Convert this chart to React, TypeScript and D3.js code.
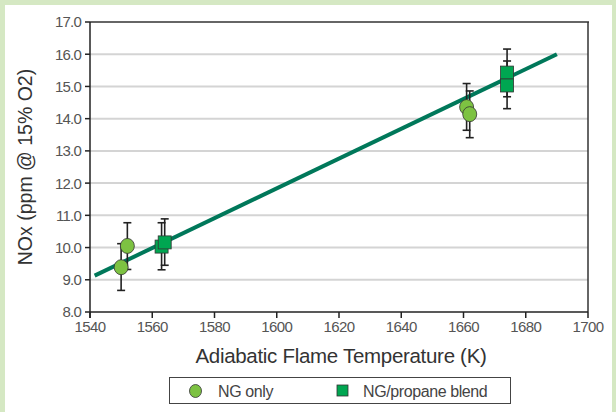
import React from "react"
import * as d3 from "d3"

// ---------- Data ----------
const xTicks = [1540, 1560, 1580, 1600, 1620, 1640, 1660, 1680, 1700]
const yTicks = [8, 9, 10, 11, 12, 13, 14, 15, 16, 17]

// NG only (circles): temperature, NOx, lower, upper
const ngTemp = [1550, 1552, 1661, 1662]
const ngNox = [9.39, 10.05, 14.36, 14.14]
const ngLow = [8.67, 9.32, 13.64, 13.41]
const ngHigh = [10.12, 10.77, 15.09, 14.86]

// NG/propane blend (squares)
const blendTemp = [1563, 1564, 1674, 1674]
const blendNox = [10.03, 10.16, 15.43, 15.03]
const blendLow = [9.31, 9.45, 14.68, 14.31]
const blendHigh = [10.77, 10.89, 16.16, 15.79]

// linear fit, endpoints
const fitTemp = [1541.5, 1690]
const fitNox = [9.13, 16.0]

const W = 616
const H = 412
const margin = { left: 90, top: 22, right: 28, bottom: 100 }

const x = d3.scaleLinear().domain([1540, 1700]).range([margin.left, W - margin.right])
const y = d3.scaleLinear().domain([8, 17]).range([H - margin.bottom, margin.top])

const font = "Liberation Sans, Arial, sans-serif"
const circleFill = "#7dc242"
const squareFill = "#00a651"
const lineColor = "#00785a"

const ErrorBar = ({ t, lo, hi }: { t: number; lo: number; hi: number }) => {
    const cx = x(t)
    return (
        <g stroke="#222" strokeWidth={1.6}>
            <line x1={cx} x2={cx} y1={y(lo)} y2={y(hi)} />
            <line x1={cx - 4} x2={cx + 4} y1={y(lo)} y2={y(lo)} />
            <line x1={cx - 4} x2={cx + 4} y1={y(hi)} y2={y(hi)} />
        </g>
    )
}

export default function App() {
    const fitLine = d3.line<number>()
        .x((d, i) => x(fitTemp[i]))
        .y(d => y(d))

    const x0 = x(1540), x1 = x(1700), yTop = y(17), yBot = y(8)

    return (
        <svg width={W} height={H} style={{ position: "absolute", left: 0, top: 0 }}>
            <rect x={0} y={0} width={W} height={H} fill="#d5e8c3" />
            <rect x={5} y={5} width={607} height={H - 5} fill="#fff" />

            {/* grid */}
            {yTicks.slice(1, -1).map(t => (
                <line key={t} x1={x0} x2={x1} y1={y(t)} y2={y(t)} stroke="#d4d4d4" strokeWidth={2} />
            ))}

            {/* frame top/right */}
            <line x1={x0} x2={x1 + 1} y1={yTop} y2={yTop} stroke="#333" strokeWidth={1.5} />
            <line x1={x1} x2={x1} y1={yTop} y2={yBot} stroke="#333" strokeWidth={1.5} />

            {/* axes */}
            <line x1={x0} x2={x1} y1={yBot} y2={yBot} stroke="#222" strokeWidth={1.5} />
            <line x1={x0} x2={x0} y1={yTop} y2={yBot + 6} stroke="#222" strokeWidth={1.5} />
            {yTicks.map(t => (
                <g key={t}>
                    <line x1={x0 - 5} x2={x0} y1={y(t)} y2={y(t)} stroke="#222" strokeWidth={1.5} />
                    <text x={x0 - 9} y={y(t)} dy="0.36em" textAnchor="end" fontFamily={font}
                        fontSize={15} fill="#555" letterSpacing={-0.8}>{t.toFixed(1)}</text>
                </g>
            ))}
            {xTicks.map(t => (
                <g key={t}>
                    <line x1={x(t)} x2={x(t)} y1={yBot} y2={yBot + 6} stroke="#222" strokeWidth={1.5} />
                    <text x={x(t)} y={yBot + 20} textAnchor="middle" fontFamily={font}
                        fontSize={15} fill="#555" letterSpacing={-0.6}>{t}</text>
                </g>
            ))}

            {/* titles */}
            <text x={341} y={363} textAnchor="middle" fontFamily={font} fontSize={20.5} fill="#333"
                letterSpacing={-0.3}>Adiabatic Flame Temperature (K)</text>
            <text transform={`translate(32,${167}) rotate(-90)`} textAnchor="middle" fontFamily={font}
                fontSize={19.5} fill="#333">NOx (ppm @ 15% O2)</text>

            {/* fit line */}
            <path d={fitLine(fitNox) ?? ""} fill="none" stroke={lineColor} strokeWidth={4} />

            {/* error bars */}
            {ngTemp.map((t, i) => <ErrorBar key={"en" + i} t={t} lo={ngLow[i]} hi={ngHigh[i]} />)}
            {blendTemp.map((t, i) => <ErrorBar key={"eb" + i} t={t} lo={blendLow[i]} hi={blendHigh[i]} />)}

            {/* markers */}
            {ngTemp.map((t, i) => (
                <ellipse key={"n" + i} cx={x(t)} cy={y(ngNox[i])} rx={7} ry={7.5} fill={circleFill}
                    stroke="#333" strokeWidth={0.8} />
            ))}
            {blendTemp.map((t, i) => (
                <rect key={"b" + i} x={x(t) - 6.5} y={y(blendNox[i]) - 6.5} width={13} height={13}
                    fill={squareFill} stroke="#333" strokeWidth={0.8} />
            ))}

            {/* legend */}
            <rect x={169.5} y={377.5} width={341} height={26} fill="#fff" stroke="#444" strokeWidth={1} />
            <ellipse cx={195.5} cy={391} rx={6} ry={6.5} fill={circleFill} stroke="#333" strokeWidth={0.8} />
            <text x={218} y={396.5} fontFamily={font} fontSize={16} fill="#444" letterSpacing={-0.4}>NG only</text>
            <rect x={337} y={385} width={11} height={11} fill={squareFill} stroke="#333" strokeWidth={0.8} />
            <text x={363} y={396.5} fontFamily={font} fontSize={16} fill="#444" letterSpacing={-0.4}>NG/propane blend</text>
        </svg>
    )
}
